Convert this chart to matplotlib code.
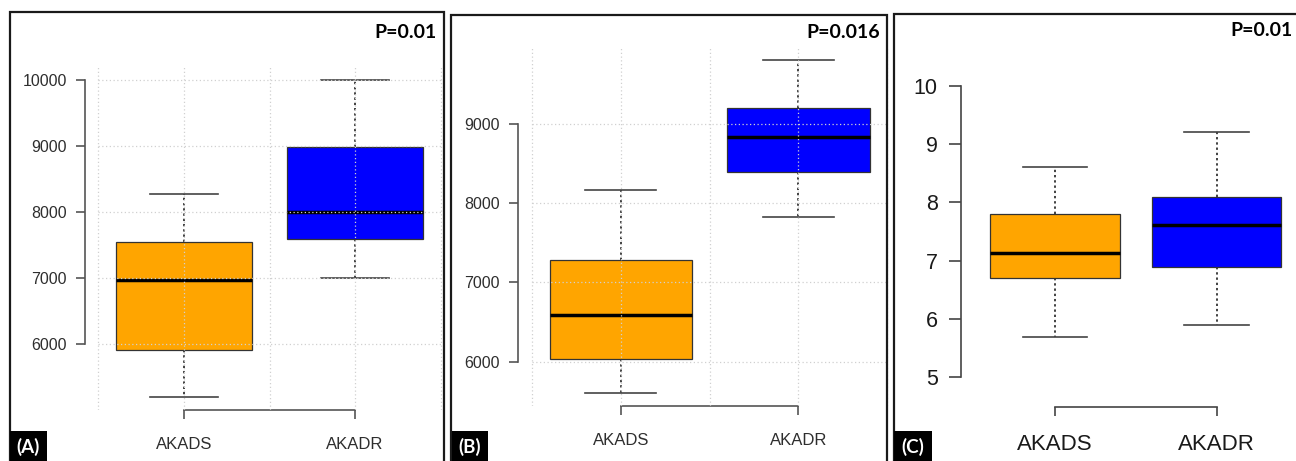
import numpy as np
import matplotlib.pyplot as plt
from matplotlib.patches import Rectangle

# group names and box statistics
groups = ['AKADS', 'AKADR']
box_colors = ['#FFA500', '#0000FF']

a_whislo = [5200, 7000]
a_q1 = [5910, 7590]
a_med = [6970, 8000]
a_q3 = [7545, 8990]
a_whishi = [8280, 10000]
a_ticks = [6000, 7000, 8000, 9000, 10000]

b_whislo = [5610, 7830]
b_q1 = [6035, 8390]
b_med = [6590, 8835]
b_q3 = [7280, 9200]
b_whishi = [8160, 9800]
b_ticks = [6000, 7000, 8000, 9000]

c_whislo = [5.7, 5.9]
c_q1 = [6.7, 6.9]
c_med = [7.13, 7.62]
c_q3 = [7.8, 8.1]
c_whishi = [8.6, 9.2]
c_ticks = [5, 6, 7, 8, 9, 10]

p_texts = ['P=0.01', 'P=0.016', 'P=0.01']
panel_tags = ['(A)', '(B)', '(C)']

W, H = 1296, 461
fig = plt.figure(figsize=(W / 100, H / 100), dpi=100)
plt.rcParams['font.family'] = ['Liberation Sans', 'DejaVu Sans']


def fx(x):
    return x / W


def fy(y):
    return 1 - y / H


def panel(left, right, top, bottom, ylim, stats, ticks, grid, fs, txtcol, spcol, ypad, ylen):
    ax = fig.add_axes([fx(left), fy(bottom), fx(right) - fx(left), fy(top) - fy(bottom)])
    ax.set_facecolor('none')
    whislo, q1, med, q3, whishi = stats
    bstats = []
    for i in range(len(groups)):
        bstats.append({'whislo': whislo[i], 'q1': q1[i], 'med': med[i],
                       'q3': q3[i], 'whishi': whishi[i], 'label': groups[i]})
    bp = ax.bxp(bstats, positions=[1, 2], widths=0.8, capwidths=0.4,
                patch_artist=True, showfliers=False,
                boxprops=dict(edgecolor='#333333', linewidth=0.9),
                whiskerprops=dict(color='#333333', linewidth=1.3, linestyle=(0, (1.3, 1.6))),
                capprops=dict(color='#444444', linewidth=1.2),
                medianprops=dict(color='black', linewidth=2.5, solid_capstyle='butt'))
    for patch, col in zip(bp['boxes'], box_colors):
        patch.set_facecolor(col)
    ax.set_xlim(0.42, 2.58)
    ax.set_ylim(*ylim)
    if grid:
        ax.hlines(ticks, 0.5, 2.5, colors='#d0d0d0', linestyles=(0, (1, 2)), linewidth=0.9, zorder=3)
        ax.vlines([0.5, 1, 1.5, 2, 2.5], ylim[0], ylim[1], colors='#d0d0d0',
                  linestyles=(0, (1, 2)), linewidth=0.9, zorder=3)
    for s in ['top', 'right']:
        ax.spines[s].set_visible(False)
    ax.spines['left'].set_bounds(ticks[0], ticks[-1])
    ax.spines['bottom'].set_bounds(1, 2)
    for s in ['left', 'bottom']:
        ax.spines[s].set_color(spcol)
        ax.spines[s].set_linewidth(1.2)
    ax.set_yticks(ticks)
    ax.set_yticklabels([str(t) for t in ticks])
    ax.set_xticks([1, 2])
    ax.set_xticklabels(groups)
    ax.tick_params(axis='y', length=ylen, width=1.2, color=spcol, pad=ypad,
                   labelsize=fs, labelcolor=txtcol)
    ax.tick_params(axis='x', length=6.5, width=1.2, color=spcol, pad=13,
                   labelsize=fs + 0.5, labelcolor=txtcol)
    return ax


panel(84.8, 454.2, 67.3, 409.5, (5008, 10192),
      [a_whislo, a_q1, a_med, a_q3, a_whishi], a_ticks, True, 11.5, '#2e2e2e', '#555555', 6.5, 6.5)
panel(517.6, 901.5, 47.0, 406.0, (5441, 9968),
      [b_whislo, b_q1, b_med, b_q3, b_whishi], b_ticks, True, 11.5, '#2e2e2e', '#555555', 6.5, 6.5)
panel(961.2, 1310.5, 74.1, 407.3, (4.486, 10.2),
      [c_whislo, c_q1, c_med, c_q3, c_whishi], c_ticks, False, 15.5, '#1a1a1a', '#444444', 8.5, 8.5)

# panel frames, tags and p-values
frames = [(10, 12, 444), (451, 15, 887), (894, 14, 1320)]
tag_boxes = [(10, 47), (452, 488), (894, 932)]
for (x0, y0, x1), (t0, t1), tag in zip(frames, tag_boxes, panel_tags):
    fig.add_artist(Rectangle((fx(x0), fy(480)), fx(x1) - fx(x0), fy(y0) - fy(480),
                             transform=fig.transFigure, fill=False,
                             edgecolor='#1a1a1a', linewidth=1.6, clip_on=False))
    fig.add_artist(Rectangle((fx(t0), fy(470)), fx(t1) - fx(t0), fy(431) - fy(470),
                             transform=fig.transFigure, facecolor='black',
                             edgecolor='none', clip_on=False))
    fig.text(fx((t0 + t1) / 2), fy(447), tag, color='white', fontsize=13.5,
             fontweight='bold', family=['Lato', 'DejaVu Sans'], ha='center', va='center')

fig.text(fx(437), fy(32), p_texts[0], fontsize=14, fontweight='bold',
         family=['Lato', 'DejaVu Sans'], ha='right', va='center')
fig.text(fx(880), fy(32), p_texts[1], fontsize=14, fontweight='bold',
         family=['Lato', 'DejaVu Sans'], ha='right', va='center')
fig.text(fx(1293), fy(31), p_texts[2], fontsize=14, fontweight='bold',
         family=['Lato', 'DejaVu Sans'], ha='right', va='center')

fig.savefig('out.png', dpi=100)
